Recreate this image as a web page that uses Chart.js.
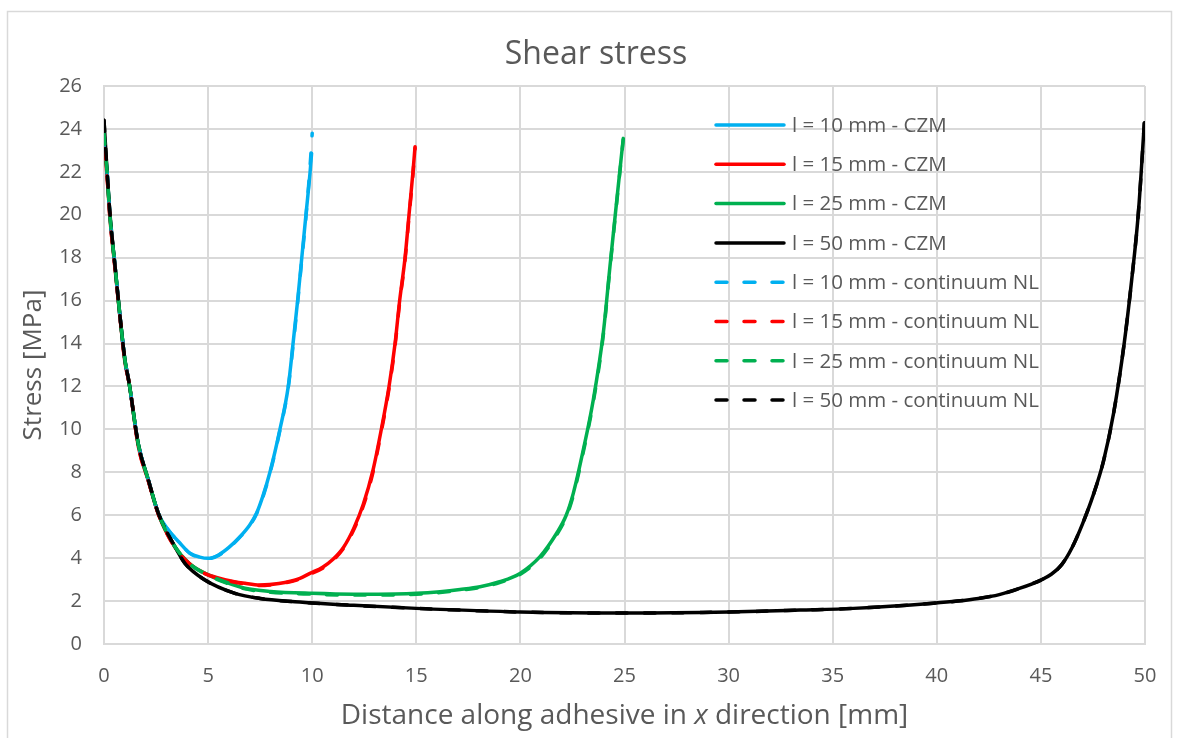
<!DOCTYPE html>
<html lang="en">
<head>
  <meta charset="UTF-8">
  <title>Shear stress</title>
  <script src="https://cdn.jsdelivr.net/npm/chart.js"></script>
  <style>
    body {
      margin: 0;
      background: #ffffff;
    }
    #wrap {
      width: 1178px;
      height: 738px;
    }
  </style>
</head>
<body>
  <div id="wrap">
    <canvas id="stressChart" width="1178" height="738"></canvas>
  </div>

  <script>
    // Values: distance x [mm], stress [MPa]
    const czm10X = [0, 0.13, 0.29, 0.53, 0.77, 1.01, 1.2, 1.65, 2.13, 2.61, 3.1, 3.6, 4.13, 4.6, 5.0, 5.5, 6.0, 6.53, 7.0, 7.33, 7.65, 7.97, 8.45, 8.85, 9.08, 9.3, 9.5, 9.7, 9.9, 9.97];
    const czm10Y = [23.3, 22.2, 19.9, 17.6, 15.25, 13.2, 12.2, 9.3, 7.64, 6.09, 5.3, 4.75, 4.23, 4.05, 3.99, 4.15, 4.5, 5.0, 5.55, 6.1, 6.95, 8.0, 10.0, 12.0, 14.0, 16.0, 18.0, 20.0, 22.0, 22.86];
    const nl10X = [0, 0.13, 0.29, 0.53, 0.77, 1.01, 1.2, 1.65, 2.13, 2.61, 3.1, 3.6, 4.13, 4.6, 5.0, 5.5, 6.0, 6.53, 7.0, 7.33, 7.65, 7.97, 8.45, 8.85, 9.08, 9.3, 9.5, 9.7, 9.9, 10.0];
    const nl10Y = [23.3, 22.2, 19.9, 17.6, 15.25, 13.2, 12.2, 9.3, 7.64, 6.09, 5.3, 4.75, 4.22, 4.04, 3.98, 4.13, 4.48, 4.98, 5.52, 6.07, 6.9, 7.95, 9.95, 11.95, 13.9, 15.9, 17.9, 19.9, 22.3, 23.8];

    const czm15X = [0, 0.13, 0.29, 0.53, 0.77, 1.01, 1.2, 1.65, 2.13, 2.61, 3.41, 4.1, 4.85, 5.8, 6.77, 7.49, 8.4, 9.41, 9.89, 10.5, 11.0, 11.5, 12.0, 12.45, 12.92, 13.3, 13.69, 13.98, 14.2, 14.46, 14.65, 14.84, 14.94];
    const czm15Y = [23.1, 22.0, 19.8, 17.5, 15.2, 13.1, 12.2, 9.2, 7.6, 6.05, 4.5, 3.75, 3.29, 3.0, 2.83, 2.75, 2.82, 3.06, 3.29, 3.58, 3.95, 4.5, 5.4, 6.5, 8.1, 9.9, 12.0, 14.0, 16.0, 18.0, 20.0, 22.0, 23.17];
    const nl15X = czm15X;
    const nl15Y = [23.1, 22.0, 19.8, 17.5, 15.2, 13.1, 12.2, 9.2, 7.6, 6.05, 4.5, 3.75, 3.28, 2.98, 2.8, 2.72, 2.8, 3.03, 3.25, 3.53, 3.9, 4.45, 5.33, 6.42, 8.0, 9.8, 11.9, 13.9, 15.9, 17.9, 19.9, 21.9, 23.1];

    const czm25X = [0, 0.13, 0.29, 0.53, 0.77, 1.01, 1.2, 1.65, 2.13, 2.61, 3.41, 4.1, 4.85, 5.8, 6.77, 8.0, 10.0, 12.0, 14.0, 15.0, 16.14, 17.1, 18.06, 19.0, 19.98, 20.94, 21.74, 22.2, 22.54, 23.02, 23.5, 23.98, 24.3, 24.63, 24.94];
    const czm25Y = [23.8, 22.2, 19.9, 17.6, 15.25, 13.2, 12.2, 9.3, 7.64, 6.09, 4.53, 3.75, 3.29, 2.9, 2.6, 2.45, 2.36, 2.32, 2.33, 2.36, 2.44, 2.54, 2.67, 2.9, 3.29, 4.07, 5.16, 6.0, 7.02, 9.04, 11.37, 14.48, 17.58, 20.69, 23.56];
    const nl25X = czm25X;
    const nl25Y = [23.8, 22.2, 19.9, 17.6, 15.25, 13.2, 12.2, 9.3, 7.64, 6.09, 4.53, 3.74, 3.27, 2.87, 2.57, 2.41, 2.32, 2.28, 2.29, 2.32, 2.4, 2.5, 2.63, 2.86, 3.24, 4.0, 5.08, 5.92, 6.92, 8.94, 11.27, 14.38, 17.5, 20.6, 23.5];

    const czm50X = [0, 0.13, 0.29, 0.53, 0.77, 1.01, 1.2, 1.65, 2.13, 2.61, 3.41, 3.89, 4.85, 6.29, 7.5, 9.17, 12.0, 15.0, 20.0, 25.0, 30.0, 33.43, 36.0, 39.83, 41.0, 42.0, 43.0, 44.0, 45.0, 45.5, 46.0, 46.5, 47.0, 47.5, 48.0, 48.5, 49.0, 49.36, 49.68, 49.97];
    const czm50Y = [24.4, 22.3, 20.0, 17.6, 15.25, 13.2, 12.2, 9.3, 7.64, 6.09, 4.53, 3.76, 2.98, 2.36, 2.12, 1.97, 1.8, 1.66, 1.49, 1.44, 1.49, 1.58, 1.66, 1.9, 2.0, 2.12, 2.3, 2.6, 2.98, 3.25, 3.7, 4.5, 5.6, 6.9, 8.5, 10.8, 14.0, 16.96, 20.07, 24.29];
    const nl50X = czm50X;
    const nl50Y = [24.4, 22.3, 20.0, 17.6, 15.25, 13.2, 12.2, 9.3, 7.64, 6.09, 4.53, 3.76, 2.98, 2.36, 2.12, 1.97, 1.8, 1.66, 1.49, 1.44, 1.49, 1.58, 1.66, 1.9, 2.0, 2.12, 2.3, 2.6, 2.98, 3.25, 3.7, 4.5, 5.6, 6.9, 8.5, 10.8, 14.0, 16.96, 20.07, 24.29];

    const seriesLabels = [
      'l = 10 mm - CZM', 'l = 15 mm - CZM', 'l = 25 mm - CZM', 'l = 50 mm - CZM',
      'l = 10 mm - continuum NL', 'l = 15 mm - continuum NL', 'l = 25 mm - continuum NL', 'l = 50 mm - continuum NL'
    ];
    const seriesColors = ['#00B0F0', '#FF0000', '#00B050', '#000000'];
    const xTicks = [0, 5, 10, 15, 20, 25, 30, 35, 40, 45, 50];
    const yTicks = [0, 2, 4, 6, 8, 10, 12, 14, 16, 18, 20, 22, 24, 26];

    const textColor = '#595959';
    const gridColor = '#d9d9d9';
    const fontFamily = "'Open Sans', sans-serif";

    function toPoints(xs, ys) {
      return xs.map((x, i) => ({ x: x, y: ys[i] }));
    }

    const seriesData = [
      toPoints(czm10X, czm10Y), toPoints(czm15X, czm15Y), toPoints(czm25X, czm25Y), toPoints(czm50X, czm50Y),
      toPoints(nl10X, nl10Y), toPoints(nl15X, nl15Y), toPoints(nl25X, nl25Y), toPoints(nl50X, nl50Y)
    ];

    const DASH = [11, 17];

    const datasets = seriesData.map((pts, i) => ({
      label: seriesLabels[i],
      data: pts,
      borderColor: seriesColors[i % 4],
      backgroundColor: seriesColors[i % 4],
      borderWidth: 3.5,
      borderDash: i >= 4 ? DASH : [],
      borderCapStyle: 'round',
      borderJoinStyle: 'round',
      showLine: true,
      pointRadius: 0,
      cubicInterpolationMode: 'monotone',
      fill: false,
      // later series are drawn on top, like the original
      order: 8 - i
    }));

    // Frame, title, axis titles and legend drawn inside the canvas
    const decorPlugin = {
      id: 'decor',
      beforeDraw(chart) {
        const ctx = chart.ctx;
        ctx.save();
        ctx.strokeStyle = gridColor;
        ctx.lineWidth = 1.5;
        ctx.strokeRect(7.5, 11.5, 1164, 740);
        ctx.restore();
      },
      afterDatasetsDraw(chart) {
        const ctx = chart.ctx;
        const area = chart.chartArea;
        ctx.save();
        ctx.fillStyle = textColor;

        // chart title
        ctx.font = "32px " + fontFamily;
        ctx.textAlign = 'center';
        ctx.textBaseline = 'middle';
        ctx.fillText('Shear stress', 596, 55);

        // y axis title
        ctx.save();
        ctx.translate(34, (area.top + area.bottom) / 2);
        ctx.rotate(-Math.PI / 2);
        ctx.font = "26px " + fontFamily;
        ctx.fillText('Stress [MPa]', 0, 0);
        ctx.restore();

        // x axis title with italic x
        const parts = [
          { t: 'Distance along adhesive in ', f: "28px " + fontFamily },
          { t: 'x', f: "italic 28px " + fontFamily },
          { t: ' direction [mm]', f: "28px " + fontFamily }
        ];
        let total = 0;
        parts.forEach(p => { ctx.font = p.f; p.w = ctx.measureText(p.t).width; total += p.w; });
        let px = (area.left + area.right) / 2 - total / 2;
        ctx.textAlign = 'left';
        parts.forEach(p => { ctx.font = p.f; ctx.fillText(p.t, px, 716); px += p.w; });

        // legend
        ctx.font = "20.5px " + fontFamily;
        chart.data.datasets.forEach((ds, i) => {
          const y = 125 + i * 39.3;
          ctx.beginPath();
          ctx.strokeStyle = ds.borderColor;
          ctx.lineWidth = 3.5;
          ctx.lineCap = 'round';
          ctx.setLineDash(ds.borderDash);
          ctx.moveTo(716, y);
          ctx.lineTo(784, y);
          ctx.stroke();
          ctx.setLineDash([]);
          ctx.fillStyle = textColor;
          ctx.fillText(ds.label, 792, y + 1);
        });
        ctx.restore();
      }
    };

    const ctx = document.getElementById('stressChart').getContext('2d');
    const stressChart = new Chart(ctx, {
      type: 'scatter',
      data: { datasets: datasets },
      plugins: [decorPlugin],
      options: {
        responsive: false,
        animation: false,
        events: [],
        layout: {
          padding: { top: 86, right: 33, left: 0, bottom: 0 }
        },
        plugins: {
          legend: { display: false },
          title: { display: false },
          tooltip: { enabled: false }
        },
        scales: {
          x: {
            type: 'linear',
            min: 0,
            max: 50,
            afterFit: (scale) => { scale.height = 94; },
            afterBuildTicks: (scale) => { scale.ticks = xTicks.map(v => ({ value: v })); },
            grid: { color: gridColor, lineWidth: 2, drawTicks: false },
            border: { color: gridColor, width: 2 },
            ticks: {
              color: textColor,
              padding: 20,
              font: { family: fontFamily, size: 20 }
            }
          },
          y: {
            type: 'linear',
            min: 0,
            max: 26,
            afterFit: (scale) => { scale.width = 104; },
            afterBuildTicks: (scale) => { scale.ticks = yTicks.map(v => ({ value: v })); },
            grid: { color: gridColor, lineWidth: 2, drawTicks: false },
            border: { color: gridColor, width: 2 },
            ticks: {
              color: textColor,
              padding: 22,
              font: { family: fontFamily, size: 20 }
            }
          }
        }
      }
    });
  </script>
</body>
</html>
